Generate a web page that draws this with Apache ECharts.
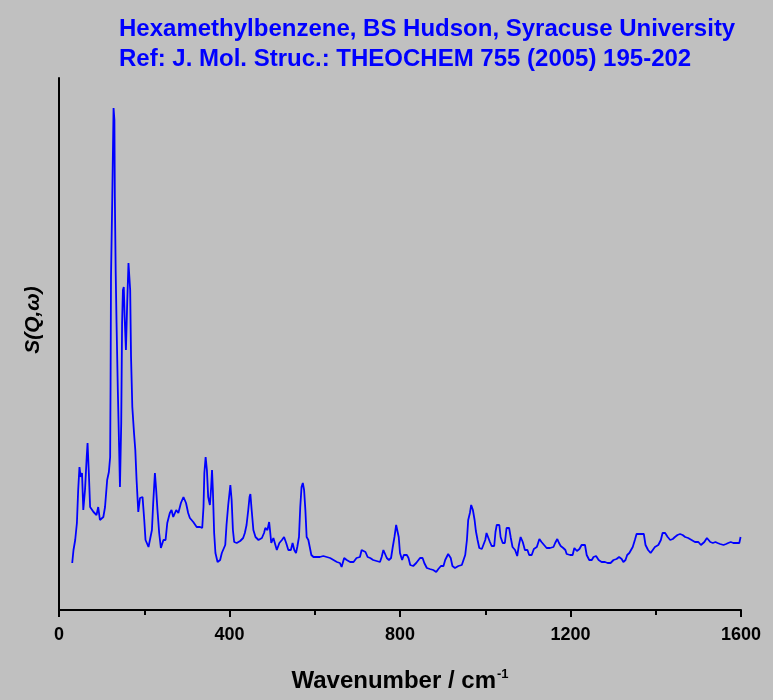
<!DOCTYPE html>
<html>
<head>
<meta charset="utf-8">
<script src="https://cdn.jsdelivr.net/npm/echarts@6/dist/echarts.min.js"></script>
<style>
  html, body { margin: 0; padding: 0; background: #c0c0c0; }
  #chart { width: 773px; height: 700px; }
</style>
</head>
<body>
<div id="chart"></div>
<script>
// INS spectrum of hexamethylbenzene (arbitrary intensity units)
const wavenumber = [
  31, 34, 38, 42, 45, 48, 51, 54, 57, 61, 65, 67, 70, 73, 81, 88, 92, 96, 100, 104,
  108, 113, 117, 120, 121, 122, 125, 128, 130, 131, 133, 135, 138, 141, 143, 146, 148, 150, 152, 154,
  157, 160, 163, 167, 169, 172, 176, 179, 182, 186, 190, 196, 200, 203, 210, 214, 218, 221, 225, 228,
  231, 235, 239, 245, 250, 254, 260, 264, 268, 275, 280, 286, 292, 298, 303, 307, 315, 323, 331, 336,
  339, 341, 344, 347, 350, 354, 357, 359, 361, 364, 367, 372, 378, 382, 385, 390, 393, 397, 402, 405,
  408, 411, 417, 425, 432, 436, 440, 444, 447, 449, 452, 456, 461, 468, 476, 481, 484, 489, 493, 495,
  498, 503, 507, 511, 517, 523, 528, 533, 538, 544, 548, 552, 556, 559, 563, 566, 569, 572, 575, 578,
  581, 585, 589, 592, 597, 605, 612, 620, 628, 636, 644, 652, 659, 663, 669, 675, 683, 691, 698, 706,
  710, 714, 719, 724, 730, 737, 745, 753, 757, 761, 765, 769, 774, 779, 783, 787, 791, 794, 797, 800,
  805, 809, 816, 820, 824, 831, 838, 842, 847, 853, 857, 863, 870, 878, 885, 890, 896, 902, 906, 913,
  919, 923, 929, 937, 945, 949, 953, 957, 960, 964, 967, 971, 975, 978, 982, 986, 992, 996, 1000, 1003,
  1007, 1011, 1015, 1021, 1024, 1027, 1033, 1036, 1041, 1046, 1050, 1056, 1060, 1064, 1070, 1075, 1079, 1083, 1088, 1093,
  1099, 1103, 1109, 1114, 1121, 1127, 1132, 1138, 1144, 1152, 1160, 1164, 1169, 1173, 1177, 1183, 1188, 1191, 1199, 1205,
  1209, 1215, 1221, 1226, 1234, 1238, 1244, 1250, 1254, 1260, 1266, 1273, 1281, 1287, 1294, 1301, 1308, 1314, 1320, 1324,
  1329, 1333, 1338, 1342, 1346, 1351, 1355, 1363, 1372, 1376, 1382, 1388, 1392, 1398, 1406, 1412, 1416, 1422, 1428, 1434,
  1440, 1445, 1451, 1457, 1463, 1469, 1476, 1484, 1492, 1500, 1506, 1510, 1514, 1520, 1524, 1528, 1534, 1540, 1545, 1551,
  1559, 1565, 1570, 1576, 1582, 1590, 1596, 1599
];
const intensity = [
  47, 60, 70, 87, 120, 143, 133, 137, 100, 120, 153, 167, 137, 103, 98, 95, 103, 90, 88, 93,
  103, 130, 138, 153, 227, 333, 413, 502, 490, 413, 338, 287, 220, 163, 123, 187, 287, 320, 323, 293,
  260, 307, 347, 320, 253, 203, 177, 160, 130, 98, 112, 113, 90, 70, 63, 63, 80, 107, 137, 120,
  100, 77, 62, 70, 70, 87, 97, 100, 93, 100, 97, 107, 113, 107, 97, 92, 88, 83, 83, 82,
  103, 137, 153, 140, 113, 105, 123, 140, 120, 77, 57, 48, 50, 57, 57, 65, 85, 105, 125, 110,
  80, 68, 67, 69, 72, 77, 85, 100, 113, 116, 100, 80, 73, 70, 72, 77, 82, 80, 88, 80,
  67, 72, 72, 60, 67, 70, 73, 67, 60, 60, 67, 60, 57, 63, 73, 103, 123, 127, 120, 100,
  73, 70, 70, 55, 53, 53, 53, 54, 53, 52, 50, 48, 47, 43, 52, 50, 48, 48, 52, 53,
  60, 62, 58, 53, 52, 50, 49, 48, 53, 60, 62, 52, 50, 52, 63, 73, 85, 86, 73, 57,
  50, 55, 55, 52, 45, 44, 47, 49, 52, 52, 47, 42, 41, 40, 38, 41, 44, 44, 50, 56,
  52, 44, 42, 44, 45, 50, 55, 70, 90, 97, 105, 100, 90, 79, 70, 62, 61, 62, 70, 77,
  78, 68, 64, 64, 78, 85, 85, 73, 67, 67, 82, 82, 72, 63, 60, 54, 65, 73, 68, 60,
  60, 55, 55, 61, 63, 71, 68, 65, 62, 62, 63, 67, 71, 67, 64, 62, 60, 56, 55, 55,
  62, 59, 61, 65, 65, 55, 50, 50, 53, 54, 50, 48, 48, 47, 47, 50, 51, 53, 51, 48,
  50, 55, 57, 60, 63, 70, 76, 76, 76, 65, 60, 57, 55, 63, 65, 70, 77, 77, 73, 70,
  71, 73, 75, 76, 75, 73, 72, 70, 68, 68, 65, 64, 68, 72, 71, 68, 67, 68, 67, 66,
  65, 66, 67, 68, 67, 67, 67, 73
];
const xTicks = { min: 0, max: 1600, interval: 400 };
const titleLines = [
  'Hexamethylbenzene, BS Hudson, Syracuse University',
  'Ref: J. Mol. Struc.: THEOCHEM 755 (2005) 195-202'
];

const points = wavenumber.map((w, i) => [w, intensity[i]]);
const sans = '"Liberation Sans", Arial, sans-serif';

const chart = echarts.init(document.getElementById('chart'), null, { renderer: 'canvas' });
chart.setOption({
  backgroundColor: '#c0c0c0',
  animation: false,
  title: {
    text: titleLines.join('\n'),
    left: 114,
    top: 9,
    textStyle: {
      color: '#0000ff',
      fontFamily: sans,
      fontWeight: 'bold',
      fontSize: 24,
      lineHeight: 30
    }
  },
  grid: { left: 59, right: 32, top: 78, bottom: 90, containLabel: false },
  xAxis: {
    type: 'value',
    min: xTicks.min,
    max: xTicks.max,
    interval: xTicks.interval,
    name: '{n|Wavenumber / cm}{s|-1}',
    nameLocation: 'middle',
    nameGap: 58,
    nameTextStyle: {
      rich: {
        n: { fontFamily: sans, fontWeight: 'bold', fontSize: 24, color: '#000' },
        s: { fontFamily: sans, fontWeight: 'bold', fontSize: 13, color: '#000', verticalAlign: 'top', padding: [0, 0, 14, 1] }
      }
    },
    axisLine: { lineStyle: { color: '#000', width: 2 } },
    axisTick: { show: true, inside: false, length: 7, lineStyle: { color: '#000', width: 2 } },
    minorTick: { show: true, splitNumber: 2, length: 5, lineStyle: { color: '#000', width: 2 } },
    axisLabel: {
      color: '#000', fontFamily: sans, fontWeight: 'bold', fontSize: 18, margin: 16,
      formatter: v => String(v)
    },
    splitLine: { show: false }
  },
  yAxis: {
    type: 'value',
    min: 0,
    max: 532,
    axisLine: { show: true, lineStyle: { color: '#000', width: 2 } },
    axisTick: { show: false },
    axisLabel: { show: false },
    splitLine: { show: false }
  },
  graphic: [{
    type: 'text',
    x: 33,
    y: 320,
    rotation: Math.PI / 2,
    style: {
      text: 'S(Q,ω)',
      fill: '#000',
      font: 'italic bold 21px "Liberation Sans", Arial, sans-serif',
      textAlign: 'center',
      textVerticalAlign: 'middle'
    }
  }],
  series: [{
    type: 'line',
    data: points,
    symbol: 'none',
    lineStyle: { color: '#0000ff', width: 1.8 },
    z: 3
  }]
});
</script>
</body>
</html>
